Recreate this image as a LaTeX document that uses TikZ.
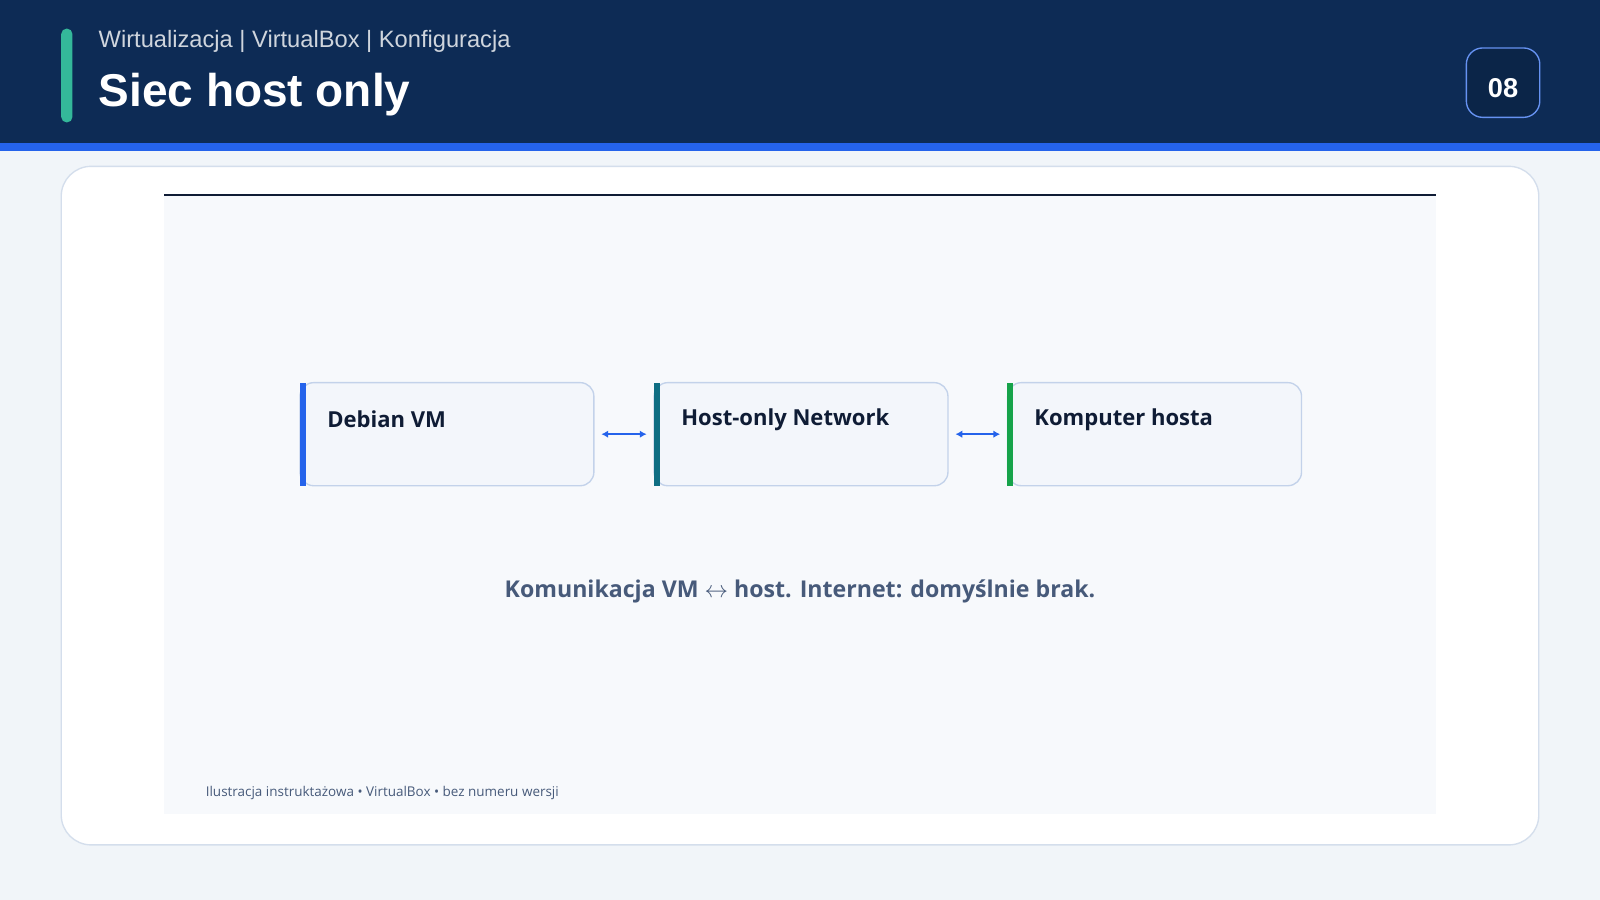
\documentclass[tikz,border=0pt]{standalone}
\usepackage{fontspec}
\setmainfont{Liberation Sans}
\newfontfamily\boxfont{Open Sans}
\usetikzlibrary{arrows.meta,positioning}
\definecolor{headbg}{HTML}{0D2B55}
\definecolor{stripe}{HTML}{2563EB}
\definecolor{pagebg}{HTML}{F1F5F9}
\definecolor{cardline}{HTML}{D4DEEC}
\definecolor{panelbg}{HTML}{F7F9FC}
\definecolor{boxbg}{HTML}{F3F6FB}
\definecolor{boxline}{HTML}{C3D2EA}
\definecolor{inktext}{HTML}{0F1C35}
\definecolor{captext}{HTML}{475A7A}
\definecolor{accent}{HTML}{34B89A}
\definecolor{tealbar}{HTML}{0F6E83}
\definecolor{greenbar}{HTML}{16A34A}
\begin{document}
\begin{tikzpicture}[x=0.75pt,y=-0.75pt,
    stage/.style={draw=boxline,fill=boxbg,rounded corners=10pt,line width=1pt,
      minimum width=216pt,minimum height=75.75pt,inner sep=0pt},
    stagelabel/.style={font=\boxfont\bfseries\fontsize{16.2}{19}\selectfont,text=inktext,anchor=west},
    link/.style={{Latex[length=5pt,width=5.5pt]}-{Latex[length=5pt,width=5.5pt]},draw=stripe,line width=1.8pt}]
  \useasboundingbox (0,0) rectangle (1568,882);
  % background and header
  \fill[pagebg] (0,0) rectangle (1568,882);
  \fill[headbg] (0,0) rectangle (1568,140);
  \fill[stripe] (0,140) rectangle (1568,148);
  \fill[accent,rounded corners=4pt] (60,28) rectangle (71,120);
  \node[anchor=west,text=white!80!headbg,font=\fontsize{17.4}{21}\selectfont] (crumb) at (92,41) {Wirtualizacja | VirtualBox | Konfiguracja};
  \node[anchor=west,text=white,font=\bfseries\fontsize{33.8}{40}\selectfont] (title) at (92,93) {Siec host only};
  \draw[fill=headbg!85!black,draw=stripe!70!white,line width=1pt,rounded corners=12pt] (1437,47) rectangle (1509,115);
  \node[text=white,font=\bfseries\fontsize{20}{24}\selectfont] (page) at (1473,86) {08};
  % card and panel
  \draw[fill=white,draw=cardline,line width=1pt,rounded corners=22pt] (60,163) rectangle (1508,828);
  \fill[panelbg] (161,191) rectangle (1407,798);
  \draw[inktext,line width=1.5pt] (161,191) -- (1407,191);
  % stages
  \node[stage] (vm) at (438,425.5) {};
  \node[stage] (net) at (785,425.5) {};
  \node[stage] (host) at (1131.5,425.5) {};
  \fill[stripe] (294,375) rectangle (300,476);
  \fill[tealbar] (641,375) rectangle (647,476);
  \fill[greenbar] (987,375) rectangle (993,476);
  \node[stagelabel] (vmtext) at (316,411) {Debian VM};
  \node[stagelabel] (nettext) at (663,411) {Host-only Network};
  \node[stagelabel] (hosttext) at (1009,411) {Komputer hosta};
  \draw[link] ([xshift=5pt]vm.east) -- ([xshift=-5pt]net.west);
  \draw[link] ([xshift=5pt]net.east) -- ([xshift=-5pt]host.west);
  % caption and footer
  \node[text=captext,font=\boxfont\bfseries\fontsize{17}{21}\selectfont] (caption) at (784,580) {Komunikacja VM $\leftrightarrow$ host. Internet: domyślnie brak.};
  \node[anchor=west,text=captext,font=\boxfont\fontsize{9.9}{12}\selectfont] (footer) at (197,777) {Ilustracja instruktażowa • VirtualBox • bez numeru wersji};
\end{tikzpicture}
\end{document}
